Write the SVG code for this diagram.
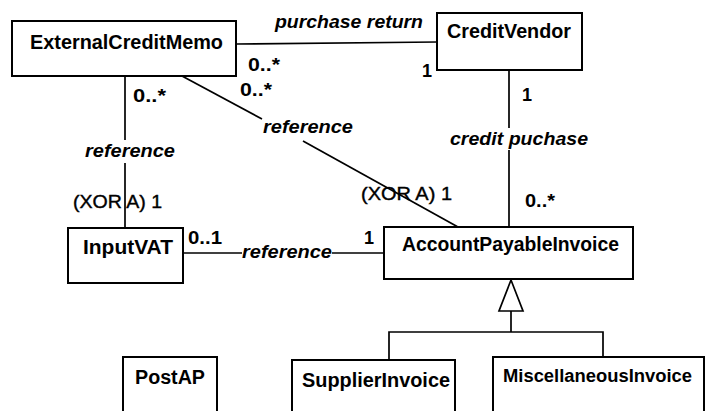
<svg xmlns="http://www.w3.org/2000/svg" width="706" height="411" viewBox="0 0 706 411">
<style>
.box{fill:#fff;stroke:#000;stroke-width:2}
.ln{fill:none;stroke:#000;stroke-width:1.7}
.name{font-family:"Liberation Sans",Arial,sans-serif;font-weight:bold;font-size:20px;fill:#000}
.lbl{font-family:"Liberation Sans",Arial,sans-serif;font-weight:bold;font-style:italic;font-size:18px;fill:#000}
.mul{font-family:"Liberation Sans",Arial,sans-serif;font-weight:bold;font-size:18px;fill:#000}
.xor{font-family:"Liberation Sans",Arial,sans-serif;font-size:19px;fill:#000;stroke:#000;stroke-width:0.4}
</style>
<rect width="706" height="411" fill="#fff"/>
<g id="connectors">
<line class="ln" x1="236" y1="44" x2="437" y2="42"/>
<line class="ln" x1="509" y1="70" x2="509" y2="128"/>
<line class="ln" x1="509" y1="150" x2="509" y2="228"/>
<line class="ln" x1="125" y1="76" x2="125" y2="140"/>
<line class="ln" x1="125" y1="163" x2="125" y2="228"/>
<line class="ln" x1="182" y1="76" x2="262" y2="119"/>
<line class="ln" x1="303" y1="141" x2="458" y2="227"/>
<line class="ln" x1="183" y1="253" x2="242" y2="253"/>
<line class="ln" x1="332" y1="253" x2="384" y2="253"/>
<polygon class="ln" points="511,280 499,311 523,311" style="fill:#fff"/>
<polyline class="ln" points="511,311 511,332"/>
<polyline class="ln" points="389,360 389,332 603,332 603,357"/>
<text class="lbl" x="275" y="28" textLength="148" lengthAdjust="spacingAndGlyphs">purchase return</text>
<text class="lbl" x="263" y="133" textLength="90" lengthAdjust="spacingAndGlyphs">reference</text>
<text class="lbl" x="85" y="157" textLength="90" lengthAdjust="spacingAndGlyphs">reference</text>
<text class="lbl" x="242" y="258" textLength="90" lengthAdjust="spacingAndGlyphs">reference</text>
<text class="lbl" x="450" y="145" textLength="138" lengthAdjust="spacingAndGlyphs">credit puchase</text>
<text class="mul" x="248" y="71" textLength="32" lengthAdjust="spacingAndGlyphs">0..*</text>
<text class="mul" x="240" y="96" textLength="32" lengthAdjust="spacingAndGlyphs">0..*</text>
<text class="mul" x="133" y="102" textLength="33" lengthAdjust="spacingAndGlyphs">0..*</text>
<text class="mul" x="525" y="207" textLength="30" lengthAdjust="spacingAndGlyphs">0..*</text>
<text class="mul" x="422" y="77">1</text>
<text class="mul" x="522" y="101">1</text>
<text class="mul" x="364" y="244">1</text>
<text class="mul" x="188" y="244" textLength="34" lengthAdjust="spacingAndGlyphs">0..1</text>
<text class="xor" x="73" y="208" textLength="89" lengthAdjust="spacingAndGlyphs">(XOR A) 1</text>
<text class="xor" x="361" y="200" textLength="91" lengthAdjust="spacingAndGlyphs">(XOR A) 1</text>
</g>
<g id="ExternalCreditMemo">
<rect class="box" x="12" y="21" width="224" height="55"/>
<text class="name" x="30" y="49" textLength="193" lengthAdjust="spacingAndGlyphs">ExternalCreditMemo</text>
</g>
<g id="CreditVendor">
<rect class="box" x="437" y="13" width="145" height="57"/>
<text class="name" x="447" y="38" textLength="124" lengthAdjust="spacingAndGlyphs">CreditVendor</text>
</g>
<g id="AccountPayableInvoice">
<rect class="box" x="384" y="227" width="249" height="52"/>
<text class="name" x="402" y="251" textLength="217" lengthAdjust="spacingAndGlyphs">AccountPayableInvoice</text>
</g>
<g id="InputVAT">
<rect class="box" x="68" y="228" width="115" height="55"/>
<text class="name" x="83" y="254" textLength="90" lengthAdjust="spacingAndGlyphs">InputVAT</text>
</g>
<g id="PostAP">
<rect class="box" x="123" y="357" width="94" height="70"/>
<text class="name" x="135" y="384" textLength="70" lengthAdjust="spacingAndGlyphs">PostAP</text>
</g>
<g id="SupplierInvoice">
<rect class="box" x="292" y="360" width="163" height="70"/>
<text class="name" x="302" y="387" textLength="148" lengthAdjust="spacingAndGlyphs">SupplierInvoice</text>
</g>
<g id="MiscellaneousInvoice">
<rect class="box" x="493" y="357" width="211" height="70"/>
<text class="name" x="503" y="382" style="font-size:18.3px" textLength="189" lengthAdjust="spacingAndGlyphs">MiscellaneousInvoice</text>
</g>
</svg>
